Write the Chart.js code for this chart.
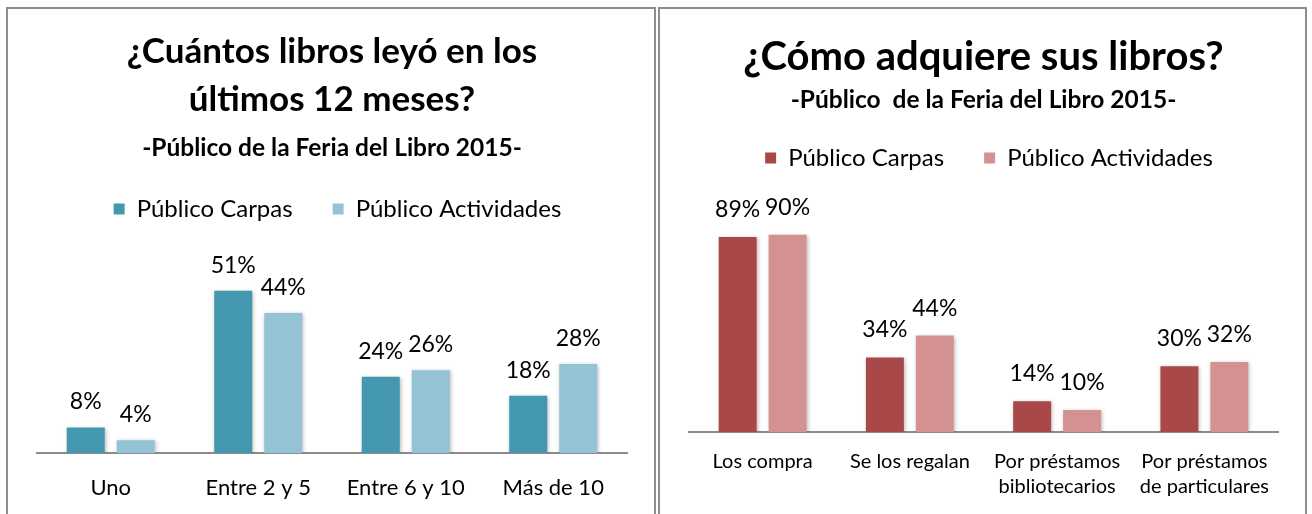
<!DOCTYPE html>
<html>
<head>
<meta charset="utf-8">
<script src="https://cdn.jsdelivr.net/npm/chart.js@4/dist/chart.umd.min.js"></script>
<style>
  body { margin: 0; background: #fff; width: 1312px; height: 514px; overflow: hidden; position: relative; }
  .panel { position: absolute; top: 7px; height: 540px; border: 2px solid #8e8e8e; border-bottom: none; box-sizing: border-box; background: #fff; }
  #p1 { left: 6px; width: 650px; }
  #p2 { left: 658px; width: 649px; }
  .panel canvas { position: absolute; left: 0; top: 0; }
</style>
</head>
<body>
<div class="panel" id="p1"><canvas id="c1" width="646" height="530"></canvas></div>
<div class="panel" id="p2"><canvas id="c2" width="645" height="530"></canvas></div>
<script>
// Cuántos libros leyó en los últimos 12 meses
const librosCategorias = ['Uno', 'Entre 2 y 5', 'Entre 6 y 10', 'Más de 10'];
const librosCarpas = [8, 51, 24, 18];
const librosActividades = [4, 44, 26, 28];

// Cómo adquiere sus libros
const adquiereCategorias = ['Los compra', 'Se los regalan', ['Por préstamos', 'bibliotecarios'], ['Por préstamos', 'de particulares']];
const adquiereCarpas = [89, 34, 14, 30];
const adquiereActividades = [90, 44, 10, 32];

const serieNombres = ['Público Carpas', 'Público Actividades'];

const FONT = 'Lato, "Noto Sans", sans-serif';

// soft drop shadow behind the bars
const barShadow = {
  id: 'barShadow',
  beforeDatasetsDraw(chart) {
    const ctx = chart.ctx;
    ctx.save();
    ctx.shadowColor = 'rgba(0,0,0,0.28)';
    ctx.shadowBlur = 4;
    ctx.shadowOffsetX = 1;
    ctx.shadowOffsetY = 1;
  },
  afterDatasetsDraw(chart) {
    chart.ctx.restore();
  }
};

// percentage labels above each bar
const valueLabels = {
  id: 'valueLabels',
  afterDatasetsDraw(chart, args, opts) {
    const ctx = chart.ctx;
    ctx.save();
    ctx.font = `${opts.size}px ${FONT}`;
    ctx.fillStyle = '#000';
    ctx.textAlign = 'center';
    ctx.textBaseline = 'middle';
    chart.data.datasets.forEach((ds, i) => {
      chart.getDatasetMeta(i).data.forEach((bar, j) => {
        ctx.fillText(ds.data[j] + '%', bar.x, bar.y - opts.offset);
      });
    });
    ctx.restore();
  }
};

// nudge the legend row sideways after layout
const legendShift = {
  id: 'legendShift',
  afterLayout(chart, args, opts) {
    if (chart.legend) {
      chart.legend.left += opts.dx;
      chart.legend.right += opts.dx;
    }
  }
};

function makeChart(id, cfg) {
  return new Chart(document.getElementById(id), {
    type: 'bar',
    data: {
      labels: cfg.labels,
      datasets: [
        { label: serieNombres[0], data: cfg.a, backgroundColor: cfg.colors[0] },
        { label: serieNombres[1], data: cfg.b, backgroundColor: cfg.colors[1] }
      ]
    },
    options: {
      responsive: false,
      animation: false,
      events: [],
      categoryPercentage: 0.678,
      barPercentage: 0.76,
      layout: { padding: { left: cfg.padL, right: cfg.padR, top: 0, bottom: 0 } },
      plugins: {
        title: {
          display: true,
          text: cfg.title,
          color: '#000',
          font: { family: FONT, size: cfg.titleSize, weight: 'bold', lineHeight: cfg.titleLH },
          padding: { top: cfg.titlePadT, bottom: 0 }
        },
        subtitle: {
          display: true,
          text: cfg.subtitle,
          color: '#000',
          font: { family: FONT, size: cfg.subSize, weight: 'bold', lineHeight: 1.2 },
          padding: { top: cfg.subPadT, bottom: cfg.subPadB }
        },
        legend: {
          display: true,
          labels: {
            color: '#000',
            boxWidth: 11,
            boxHeight: 11,
            padding: 40,
            font: { family: FONT, size: cfg.legendSize }
          }
        },
        tooltip: { enabled: false },
        valueLabels: { size: cfg.valueSize, offset: cfg.valueOffset },
        legendShift: { dx: cfg.legendDx }
      },
      scales: {
        x: {
          grid: { display: false },
          border: { display: true, color: '#8c8c8c', width: 2 },
          ticks: { color: '#000', font: { family: FONT, size: cfg.tickSize, lineHeight: cfg.tickLH }, padding: cfg.tickPad, maxRotation: 0, autoSkip: false },
          afterFit(scale) { scale.height = cfg.axisH; }
        },
        y: { display: false, min: 0, max: cfg.max }
      }
    },
    plugins: [barShadow, valueLabels, legendShift]
  });
}

makeChart('c1', {
  labels: librosCategorias, a: librosCarpas, b: librosActividades,
  colors: ['#4398b0', '#94c3d5'],
  title: ['¿Cuántos libros leyó en los', 'últimos 12 meses?'],
  subtitle: '-Público de la Feria del Libro 2015-',
  titleSize: 35, titleLH: 1.371, titlePadT: 19,
  subSize: 24.5, subPadT: 9.3, subPadB: -5.7,
  legendSize: 24, legendDx: 5.5, valueSize: 23, valueOffset: 25.5,
  tickSize: 22, tickLH: 1.3, tickPad: 13,
  padL: 29, padR: 27, axisH: 86, max: 69.8
});

makeChart('c2', {
  labels: adquiereCategorias, a: adquiereCarpas, b: adquiereActividades,
  colors: ['#a94848', '#d39192'],
  title: ['¿Cómo adquiere sus libros?'],
  subtitle: '-Público  de la Feria del Libro 2015-',
  titleSize: 40, titleLH: 1.2, titlePadT: 24,
  subSize: 24.5, subPadT: 4.3, subPadB: -8.6,
  legendSize: 24, legendDx: 5.5, valueSize: 23, valueOffset: 27.5,
  tickSize: 20, tickLH: 1.25, tickPad: 9.5,
  padL: 29, padR: 27, axisH: 107, max: 115
});
</script>
</body>
</html>
